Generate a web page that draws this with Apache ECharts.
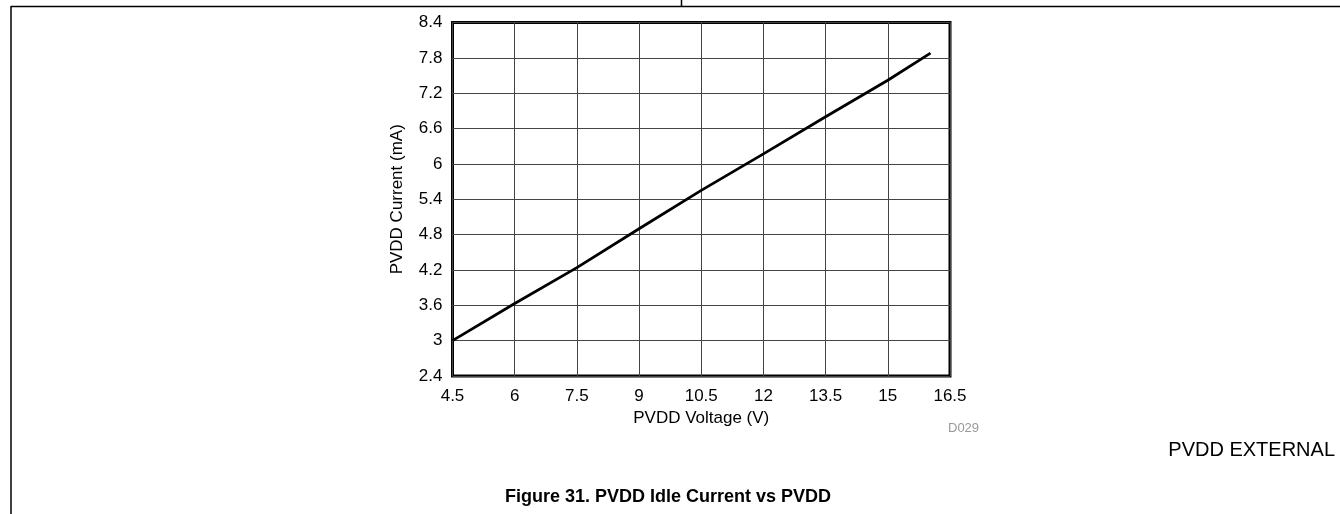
<!DOCTYPE html>
<html>
<head>
<meta charset="utf-8">
<script src="https://cdn.jsdelivr.net/npm/echarts@6/dist/echarts.min.js"></script>
<style>
html,body{margin:0;padding:0;background:#fff;}
#chart{width:1340px;height:514px;}
</style>
</head>
<body>
<div id="chart"></div>
<script>
// PVDD voltage (V)
const voltage = [4.5, 6, 7.5, 9, 10.5, 12, 13.5, 15, 16.03];
// PVDD idle current (mA)
const current = [3.0, 3.63, 4.24, 4.9, 5.55, 6.17, 6.8, 7.42, 7.88];
const xTitle = 'PVDD Voltage (V)';
const yTitle = 'PVDD Current (mA)';
const figTitle = 'Figure 31. PVDD Idle Current vs PVDD';
const codeText = 'D029';
const sideText = 'PVDD EXTERNAL';

const FONT = '"Liberation Sans", Arial, sans-serif';
const chart = echarts.init(document.getElementById('chart'), null, {renderer: 'canvas'});
const fmt = v => String(+(+v).toFixed(1));

chart.setOption({
  animation: false,
  backgroundColor: '#fff',
  grid: {left: 452.5, right: 390, top: 22.5, bottom: 138, show: true, borderColor: '#000', borderWidth: 3, containLabel: false},
  xAxis: {
    type: 'value', min: 4.5, max: 16.5, interval: 1.5,
    name: xTitle, nameLocation: 'middle', nameGap: 34,
    nameTextStyle: {fontFamily: FONT, fontSize: 17, color: '#000'},
    axisLine: {show: false}, axisTick: {show: false},
    axisLabel: {fontFamily: FONT, fontSize: 17, color: '#000', margin: 12, formatter: fmt},
    splitLine: {show: true, lineStyle: {color: '#444', width: 1}}
  },
  yAxis: {
    type: 'value', min: 2.4, max: 8.4, interval: 0.6,
    name: yTitle, nameLocation: 'middle', nameGap: 47, nameRotate: 90,
    nameTextStyle: {fontFamily: FONT, fontSize: 17, color: '#000'},
    axisLine: {show: false}, axisTick: {show: false},
    axisLabel: {fontFamily: FONT, fontSize: 17, color: '#000', margin: 10, formatter: fmt},
    splitLine: {show: true, lineStyle: {color: '#444', width: 1}}
  },
  series: [{
    type: 'line', data: voltage.map((v, i) => [v, current[i]]),
    showSymbol: false, smooth: false,
    lineStyle: {color: '#000', width: 2.8}
  }],
  graphic: [
    {type: 'line', shape: {x1: 11, y1: 6.5, x2: 1340, y2: 6.5}, style: {stroke: '#000', lineWidth: 1.5}},
    {type: 'line', shape: {x1: 11, y1: 6, x2: 11, y2: 514}, style: {stroke: '#000', lineWidth: 1.5}},
    {type: 'line', shape: {x1: 681.5, y1: 0, x2: 681.5, y2: 6}, style: {stroke: '#000', lineWidth: 1.5}},
    {type: 'text', x: 948, y: 428, style: {text: codeText, font: '13px ' + FONT, fill: '#999', verticalAlign: 'middle'}},
    {type: 'text', x: 1335, y: 450, style: {text: sideText, font: '20px ' + FONT, fill: '#000', align: 'right', verticalAlign: 'middle'}},
    {type: 'text', x: 668, y: 497, style: {text: figTitle, font: 'bold 18px ' + FONT, fill: '#000', align: 'center', verticalAlign: 'middle'}}
  ]
});
</script>
</body>
</html>
